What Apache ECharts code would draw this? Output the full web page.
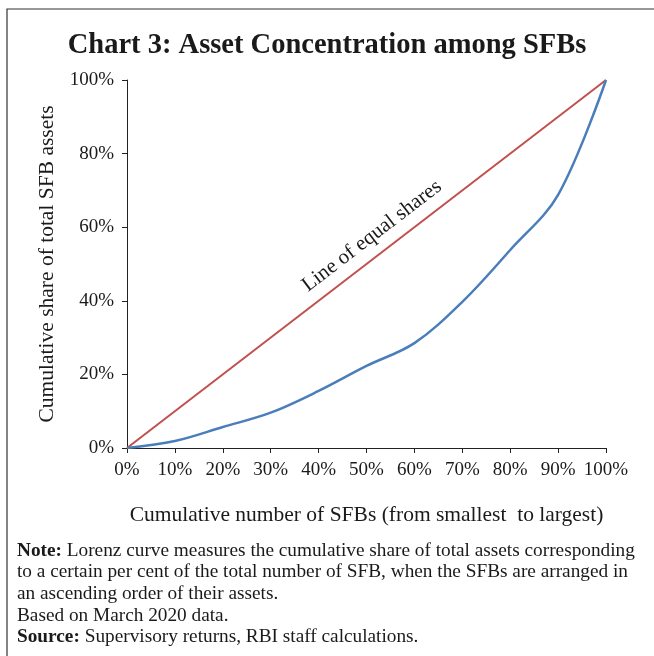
<!DOCTYPE html>
<html>
<head>
<meta charset="utf-8">
<script src="https://cdn.jsdelivr.net/npm/echarts@6/dist/echarts.min.js"></script>
<style>
  html, body { margin: 0; padding: 0; background: #fff; }
  #chart { width: 654px; height: 656px; }
</style>
</head>
<body>
<div id="chart"></div>
<script>
// cumulative share of SFBs (x) and of assets (y), in %
const sfbShare = [0, 10, 20, 30, 40, 50, 60, 70, 80, 90, 100]
const assetShare = [0, 1.9, 5.7, 9.6, 15.5, 22.3, 28.5, 39.7, 53.8, 68.8, 100]
const equalLine = [[0, 0], [100, 100]]

const serif = '"Liberation Serif", "DejaVu Serif", serif'
const chart = echarts.init(document.getElementById('chart'))

const option = {
  backgroundColor: '#fff',
  animation: false,
  title: {
    text: 'Chart 3: Asset Concentration among SFBs',
    left: 'center',
    top: 26,
    textStyle: { fontFamily: serif, fontWeight: 'bold', fontSize: 28.5, color: '#1a1a1a' }
  },
  grid: { left: 127, right: 48, top: 80, bottom: 208 },
  xAxis: {
    type: 'value',
    min: 0, max: 100, interval: 10,
    name: 'Cumulative number of SFBs (from smallest  to largest)',
    nameLocation: 'middle',
    nameGap: 56,
    nameTextStyle: { fontFamily: serif, fontSize: 21.5, color: '#1a1a1a' },
    axisLine: { lineStyle: { color: '#222', width: 1 } },
    axisTick: { show: true, length: 5, lineStyle: { color: '#222' } },
    axisLabel: { formatter: '{value}%', fontFamily: serif, fontSize: 19, color: '#1a1a1a', margin: 13 },
    splitLine: { show: false }
  },
  yAxis: {
    type: 'value',
    min: 0, max: 100, interval: 20,
    name: 'Cumulative share of total SFB assets',
    nameLocation: 'middle',
    nameGap: 68,
    nameTextStyle: { fontFamily: serif, fontSize: 21.5, color: '#1a1a1a' },
    axisLine: { show: true, lineStyle: { color: '#222', width: 1 } },
    axisTick: { show: true, length: 5, lineStyle: { color: '#222' } },
    axisLabel: { formatter: '{value}%', fontFamily: serif, fontSize: 19, color: '#1a1a1a', margin: 13 },
    splitLine: { show: false }
  },
  series: [
    {
      name: 'Line of equal shares',
      type: 'line',
      data: equalLine,
      symbol: 'none',
      lineStyle: { color: '#C0504D', width: 2 },
      z: 3
    },
    {
      name: 'Lorenz curve',
      type: 'line',
      data: sfbShare.map((x, i) => [x, assetShare[i]]),
      smooth: 0.35,
      symbol: 'none',
      lineStyle: { color: '#4A7EBB', width: 2.5 },
      z: 4
    }
  ],
  graphic: [
    {
      type: 'rect',
      shape: { x: 7, y: 9, width: 700, height: 700 },
      style: { fill: 'none', stroke: '#333', lineWidth: 1.2 },
      silent: true
    },
    {
      type: 'text',
      x: 372, y: 236,
      rotation: 37.5 * Math.PI / 180,
      style: {
        text: 'Line of equal shares',
        font: '21px ' + serif,
        fill: '#1a1a1a',
        align: 'center',
        verticalAlign: 'middle'
      }
    },
    {
      type: 'text',
      left: 17, top: 540,
      style: {
        text: '{b|Note:} Lorenz curve measures the cumulative share of total assets corresponding\n' +
              'to a certain per cent of the total number of SFB, when the SFBs are arranged in\n' +
              'an ascending order of their assets.\n' +
              'Based on March 2020 data.\n' +
              '{b|Source:} Supervisory returns, RBI staff calculations.',
        font: '19.3px ' + serif,
        fill: '#1a1a1a',
        lineHeight: 21.6,
        rich: {
          b: { fontWeight: 'bold', fontFamily: serif, fontSize: 19.3, fill: '#1a1a1a', lineHeight: 21.6 }
        }
      }
    }
  ]
}

chart.setOption(option)
</script>
</body>
</html>
